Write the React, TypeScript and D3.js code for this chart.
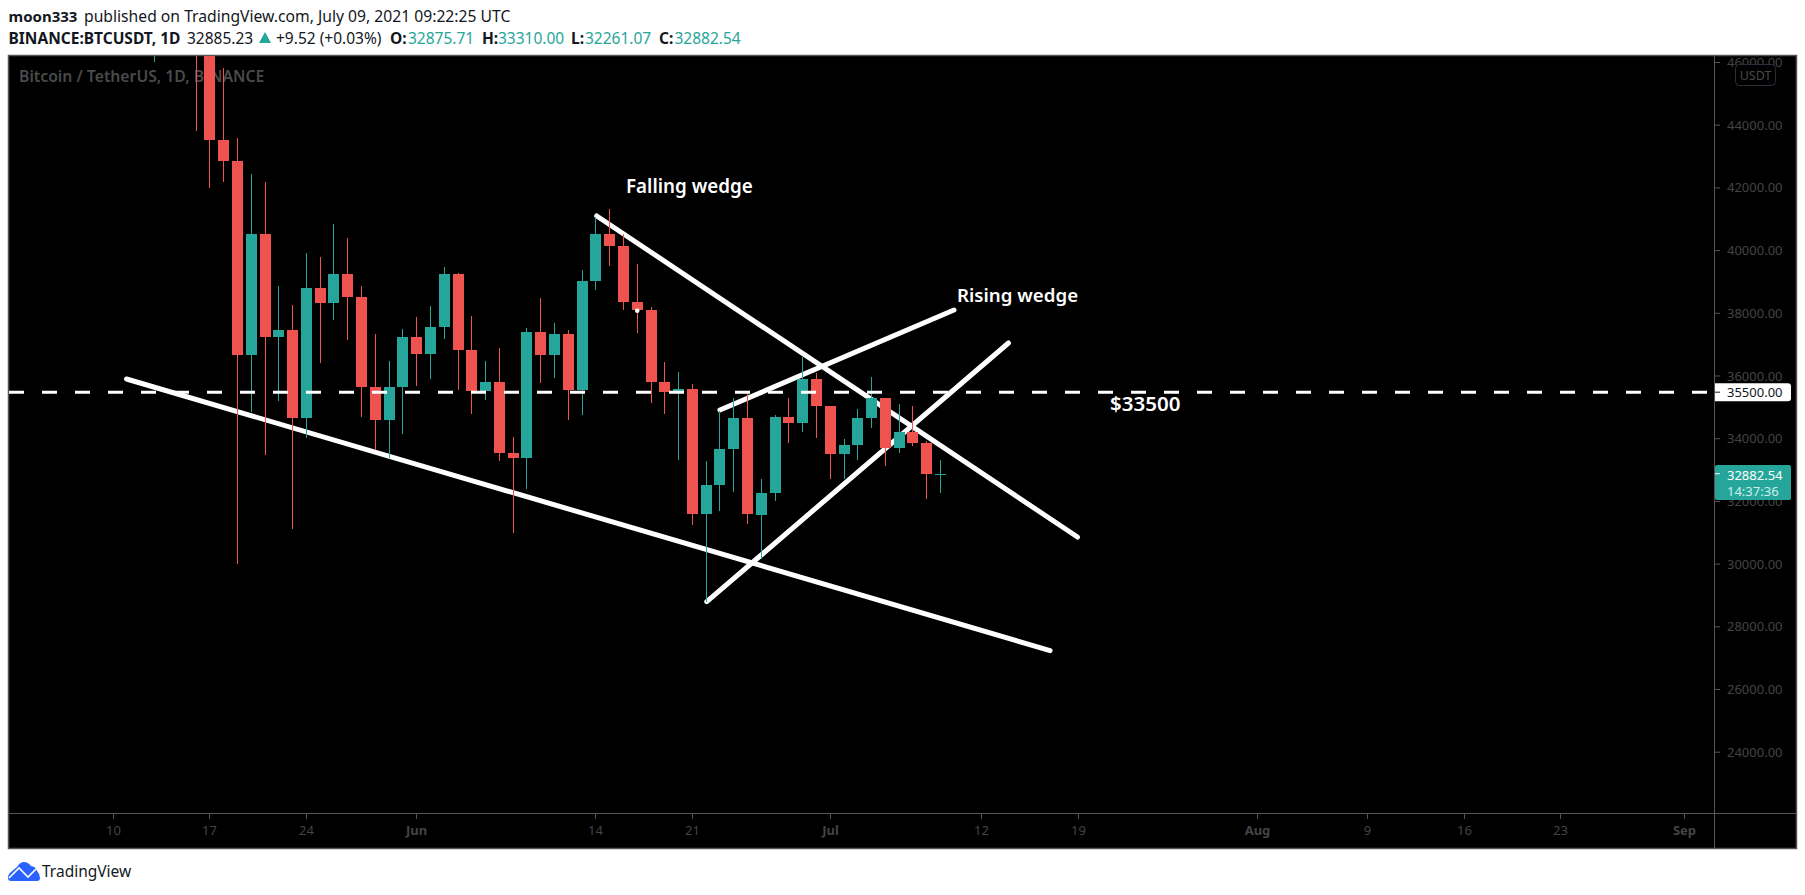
import * as React from 'react';
import * as d3 from 'd3';

const firstDay = Date.UTC(2021, 4, 13);
const dayMs = 86400000;

const opens = [49537, 49671, 49841, 46708, 46426, 43538, 42849, 36671, 40526, 37253, 37455, 34655, 38796, 38324, 39241, 38529, 35661, 34605, 35641, 37253, 36694, 37568, 39246, 36829, 35516, 35796, 33552, 33380, 37388, 36677, 37331, 35546, 39020, 40516, 40143, 38349, 38092, 35820, 35484, 35600, 31614, 32509, 33675, 34663, 31576, 32283, 34702, 34494, 35911, 35045, 33502, 33786, 34669, 35288, 33690, 34220, 33862, 32875.71];
const highs = [51367, 51540, 50700, 49800, 46643, 45811, 43584, 42451, 42200, 38856, 38270, 39920, 39791, 40841, 40411, 38877, 37338, 36488, 37499, 37894, 38225, 39476, 39289, 37925, 36480, 36900, 34068, 37534, 38491, 37680, 37463, 39380, 41064, 41330, 40527, 39559, 38202, 36457, 36139, 35750, 33298, 34881, 35298, 35450, 32730, 34749, 35297, 36600, 36100, 35057, 33977, 34945, 35967, 35293, 35118, 35059, 33929, 33310];
const lows = [46000, 48800, 46555, 43825, 42001, 42201, 30000, 34850, 33488, 35200, 31111, 34031, 36419, 37800, 37134, 34684, 33632, 33379, 34153, 35666, 35920, 37170, 35555, 34800, 35222, 33300, 31000, 32396, 35782, 35936, 34600, 34757, 38730, 39506, 38116, 37365, 35129, 34803, 33336, 31251, 28805, 31683, 32286, 31275, 30151, 32000, 33862, 34225, 34017, 32711, 32699, 33316, 34357, 33125, 33532, 33777, 32077, 32261.07];
const closes = [49671, 49841, 46708, 46426, 43538, 42849, 36671, 40526, 37253, 37455, 34655, 38796, 38324, 39241, 38529, 35663, 34605, 35641, 37253, 36693, 37568, 39246, 36829, 35513, 35796, 33552, 33380, 37388, 36675, 37331, 35546, 39020, 40516, 40144, 38349, 38092, 35820, 35483, 35600, 31608, 32509, 33678, 34663, 31584, 32283, 34700, 34494, 35911, 35045, 33504, 33786, 34669, 35286, 33690, 34220, 33862, 32875, 32882.54];

const priceTicks = [46000, 44000, 42000, 40000, 38000, 36000, 34000, 32000, 30000, 28000, 26000, 24000];

const timeTickDates = ['2021-05-10', '2021-05-17', '2021-05-24', '2021-06-01', '2021-06-14', '2021-06-21', '2021-07-01', '2021-07-12', '2021-07-19', '2021-08-01', '2021-08-09', '2021-08-16', '2021-08-23', '2021-09-01'];
const timeTickLabels = ['10', '17', '24', 'Jun', '14', '21', 'Jul', '12', '19', 'Aug', '9', '16', '23', 'Sep'];

// wedge lines as [start date, start price, end date, end price]
const trendLines: [string, number, string, number][] = [
    ['2021-05-10T22:48Z', 35904, '2021-07-16T22:48Z', 27241],
    ['2021-06-14T01:26Z', 41104, '2021-07-18T22:30Z', 30864],
    ['2021-06-23T00:00Z', 34915, '2021-07-09T23:30Z', 38105],
    ['2021-06-22T01:00Z', 28800, '2021-07-13T22:20Z', 37052],
];

const levelPrice = 35500;
const lastPrice = 32882.54;

const red = '#ef5350';
const teal = '#26a69a';
const axisText = '#444444';
const frameColor = '#555555';
const uiFont = '"Noto Sans", sans-serif';

const App: React.FunctionComponent = () => {
    const ref = React.useRef<SVGSVGElement>(null);

    React.useEffect(() => {
        if (!ref.current) {
            return;
        }
        const svg = d3.select(ref.current);
        svg.selectAll('*').remove();

        const x = d3.scaleUtc()
            .domain([new Date('2021-05-19T00:00Z'), new Date('2021-07-09T00:00Z')])
            .range([237.5, 940.5]);
        const y = d3.scaleLinear().domain([36000, 24000]).range([376, 752.2]);
        const candles = opens.map((o, i) => ({
            date: new Date(firstDay + i * dayMs),
            o, h: highs[i], l: lows[i], c: closes[i],
        }));

        const text = (sel: any, tx: number, ty: number, value: string, fill: string, size: number, weight = 400, anchor = 'start') =>
            sel.append('text')
                .attr('x', tx).attr('y', ty)
                .attr('fill', fill)
                .attr('font-size', size)
                .attr('font-weight', weight)
                .attr('font-family', uiFont)
                .attr('text-anchor', anchor)
                .text(value);

        // header
        text(svg, 8.5, 22, 'moon333', '#131722', 15, 700);
        text(svg, 84, 22, 'published on TradingView.com, July 09, 2021 09:22:25 UTC', '#131722', 15.7);
        text(svg, 8.5, 43.5, 'BINANCE:BTCUSDT, 1D', '#131722', 15.5, 700);
        text(svg, 187, 43.5, '32885.23', '#131722', 15.5);
        svg.append('path').attr('d', 'M259 43 L265 32 L271 43 Z').attr('fill', teal);
        text(svg, 276, 43.5, '+9.52 (+0.03%)', '#131722', 15.5);
        const ohlc: [string, string, number, number][] = [
            ['O:', '32875.71', 390, 408],
            ['H:', '33310.00', 482, 498],
            ['L:', '32261.07', 571, 585],
            ['C:', '32882.54', 659, 674.5],
        ];
        ohlc.forEach(([k, v, kx, vx]) => {
            text(svg, kx, 43.5, k, '#131722', 15.5, 700);
            text(svg, vx, 43.5, v, teal, 15.5);
        });

        // chart frame
        svg.append('rect')
            .attr('x', 8.5).attr('y', 55.5).attr('width', 1788).attr('height', 793)
            .attr('fill', '#000').attr('stroke', frameColor).attr('stroke-width', 1.5);
        svg.append('clipPath').attr('id', 'pane')
            .append('rect').attr('x', 9).attr('y', 56).attr('width', 1705).attr('height', 757);
        const pane = svg.append('g').attr('clip-path', 'url(#pane)');

        text(pane, 19, 82, 'Bitcoin / TetherUS, 1D, BINANCE', '#4a4a4a', 15.75, 600);

        pane.selectAll('line.trend')
            .data(trendLines)
            .join('line')
            .attr('class', 'trend')
            .attr('x1', d => x(new Date(d[0])))
            .attr('y1', d => y(d[1]))
            .attr('x2', d => x(new Date(d[2])))
            .attr('y2', d => y(d[3]))
            .attr('stroke', '#fff')
            .attr('stroke-width', 5)
            .attr('stroke-linecap', 'round');

        const bars = pane.selectAll('g.candle')
            .data(candles)
            .join('g')
            .attr('class', 'candle')
            .attr('fill', d => d.c >= d.o ? teal : red)
            .attr('shape-rendering', 'crispEdges');
        bars.append('rect')
            .attr('x', d => Math.floor(x(d.date)))
            .attr('width', 1)
            .attr('y', d => Math.round(y(d.h)))
            .attr('height', d => Math.round(y(d.l)) - Math.round(y(d.h)));
        bars.append('rect')
            .attr('x', d => Math.floor(x(d.date)) - 5)
            .attr('width', 11)
            .attr('y', d => Math.round(y(Math.max(d.o, d.c))))
            .attr('height', d => Math.max(1, Math.round(y(Math.min(d.o, d.c))) - Math.round(y(Math.max(d.o, d.c)))));

        // 35500 level sits above the candles
        pane.append('line')
            .attr('x1', 9).attr('x2', 1714)
            .attr('y1', y(levelPrice) + 0.5).attr('y2', y(levelPrice) + 0.5)
            .attr('stroke', '#fff')
            .attr('stroke-width', 3)
            .attr('stroke-dasharray', '15 18');

        pane.append('circle')
            .attr('cx', x(new Date('2021-06-17T00:00Z')))
            .attr('cy', y(38080))
            .attr('r', 2.3)
            .attr('fill', '#fff');

        const note = (tx: number, ty: number, value: string, size: number) =>
            text(pane, tx, ty, value, '#fff', size, 600);
        note(626, 193, 'Falling wedge', 18.8);
        note(957, 302, 'Rising wedge', 18.7);
        note(1110, 411, '$33500', 20.5);

        // price axis
        svg.append('line')
            .attr('x1', 1714.5).attr('x2', 1714.5).attr('y1', 56).attr('y2', 848)
            .attr('stroke', frameColor);
        const priceAxis = svg.append('g').selectAll('g')
            .data(priceTicks)
            .join('g')
            .attr('transform', d => `translate(0,${y(d)})`);
        priceAxis.append('line')
            .attr('x1', 1715).attr('x2', 1720)
            .attr('stroke', frameColor);
        priceAxis.append('text')
            .attr('x', 1727).attr('dy', '0.35em')
            .attr('fill', axisText)
            .attr('font-size', 13)
            .attr('font-family', uiFont)
            .text(d => d3.format('.2f')(d));

        // USDT badge
        svg.append('rect')
            .attr('x', 1735.5).attr('y', 64.5).attr('width', 40).attr('height', 21).attr('rx', 4)
            .attr('fill', '#000').attr('stroke', '#2a2e39');
        text(svg, 1755.5, 80, 'USDT', '#4a4a4a', 12.5, 400, 'middle');

        // price tags
        svg.append('path')
            .attr('d', `M1715 ${y(levelPrice) - 8.5} H1788 Q1791 ${y(levelPrice) - 8.5} 1791 ${y(levelPrice) - 5.5} V${y(levelPrice) + 6.5} Q1791 ${y(levelPrice) + 9.5} 1788 ${y(levelPrice) + 9.5} H1715 Z`)
            .attr('fill', '#fff');
        svg.append('line')
            .attr('x1', 1715).attr('x2', 1720)
            .attr('y1', y(levelPrice) + 0.5).attr('y2', y(levelPrice) + 0.5)
            .attr('stroke', '#131722');
        text(svg, 1727, y(levelPrice) + 5.5, d3.format('.2f')(levelPrice), '#131722', 13);

        svg.append('rect')
            .attr('x', 1715).attr('y', 465).attr('width', 76).attr('height', 35).attr('rx', 2)
            .attr('fill', teal);
        svg.append('line')
            .attr('x1', 1715).attr('x2', 1720)
            .attr('y1', y(lastPrice)).attr('y2', y(lastPrice))
            .attr('stroke', '#fff');
        text(svg, 1727, 479.5, d3.format('.2f')(lastPrice), '#fff', 13);
        text(svg, 1727, 495.5, '14:37:36', '#cdeeea', 13);

        // time axis
        svg.append('line')
            .attr('x1', 9).attr('x2', 1796).attr('y1', 813.5).attr('y2', 813.5)
            .attr('stroke', frameColor);
        const timeAxis = svg.append('g').selectAll('g')
            .data(timeTickDates)
            .join('g')
            .attr('transform', d => `translate(${Math.floor(x(new Date(d + 'T00:00Z'))) + 0.5},0)`);
        timeAxis.append('line')
            .attr('y1', 814).attr('y2', 819)
            .attr('stroke', frameColor);
        timeAxis.append('text')
            .attr('y', 835)
            .attr('text-anchor', 'middle')
            .attr('fill', axisText)
            .attr('font-size', 13)
            .attr('font-family', uiFont)
            .attr('font-weight', (d, i) => isNaN(+timeTickLabels[i]) ? 700 : 400)
            .text((d, i) => timeTickLabels[i]);

        // logo
        const logo = svg.append('g').attr('transform', 'translate(8,862)');
        logo.append('path')
            .attr('d', 'M0 16 Q0 12 3 10 L9 5 Q12 0 16 0 Q20 0 23 4 Q29 5 29 9 Q32 12 32 16 Q32 19 29 19 H3 Q0 19 0 16 Z')
            .attr('fill', '#2962ff');
        logo.append('path')
            .attr('d', 'M1 16 L11 6 L20 15 L29 6')
            .attr('fill', 'none')
            .attr('stroke', '#fff')
            .attr('stroke-width', 1.6);
        text(svg, 42, 877, 'TradingView', '#131722', 15.5);
    }, []);

    return <svg ref={ref} width={1805} height={895} style={{ position: 'absolute', left: 0, top: 0, display: 'block' }}/>;
};

export default App;
